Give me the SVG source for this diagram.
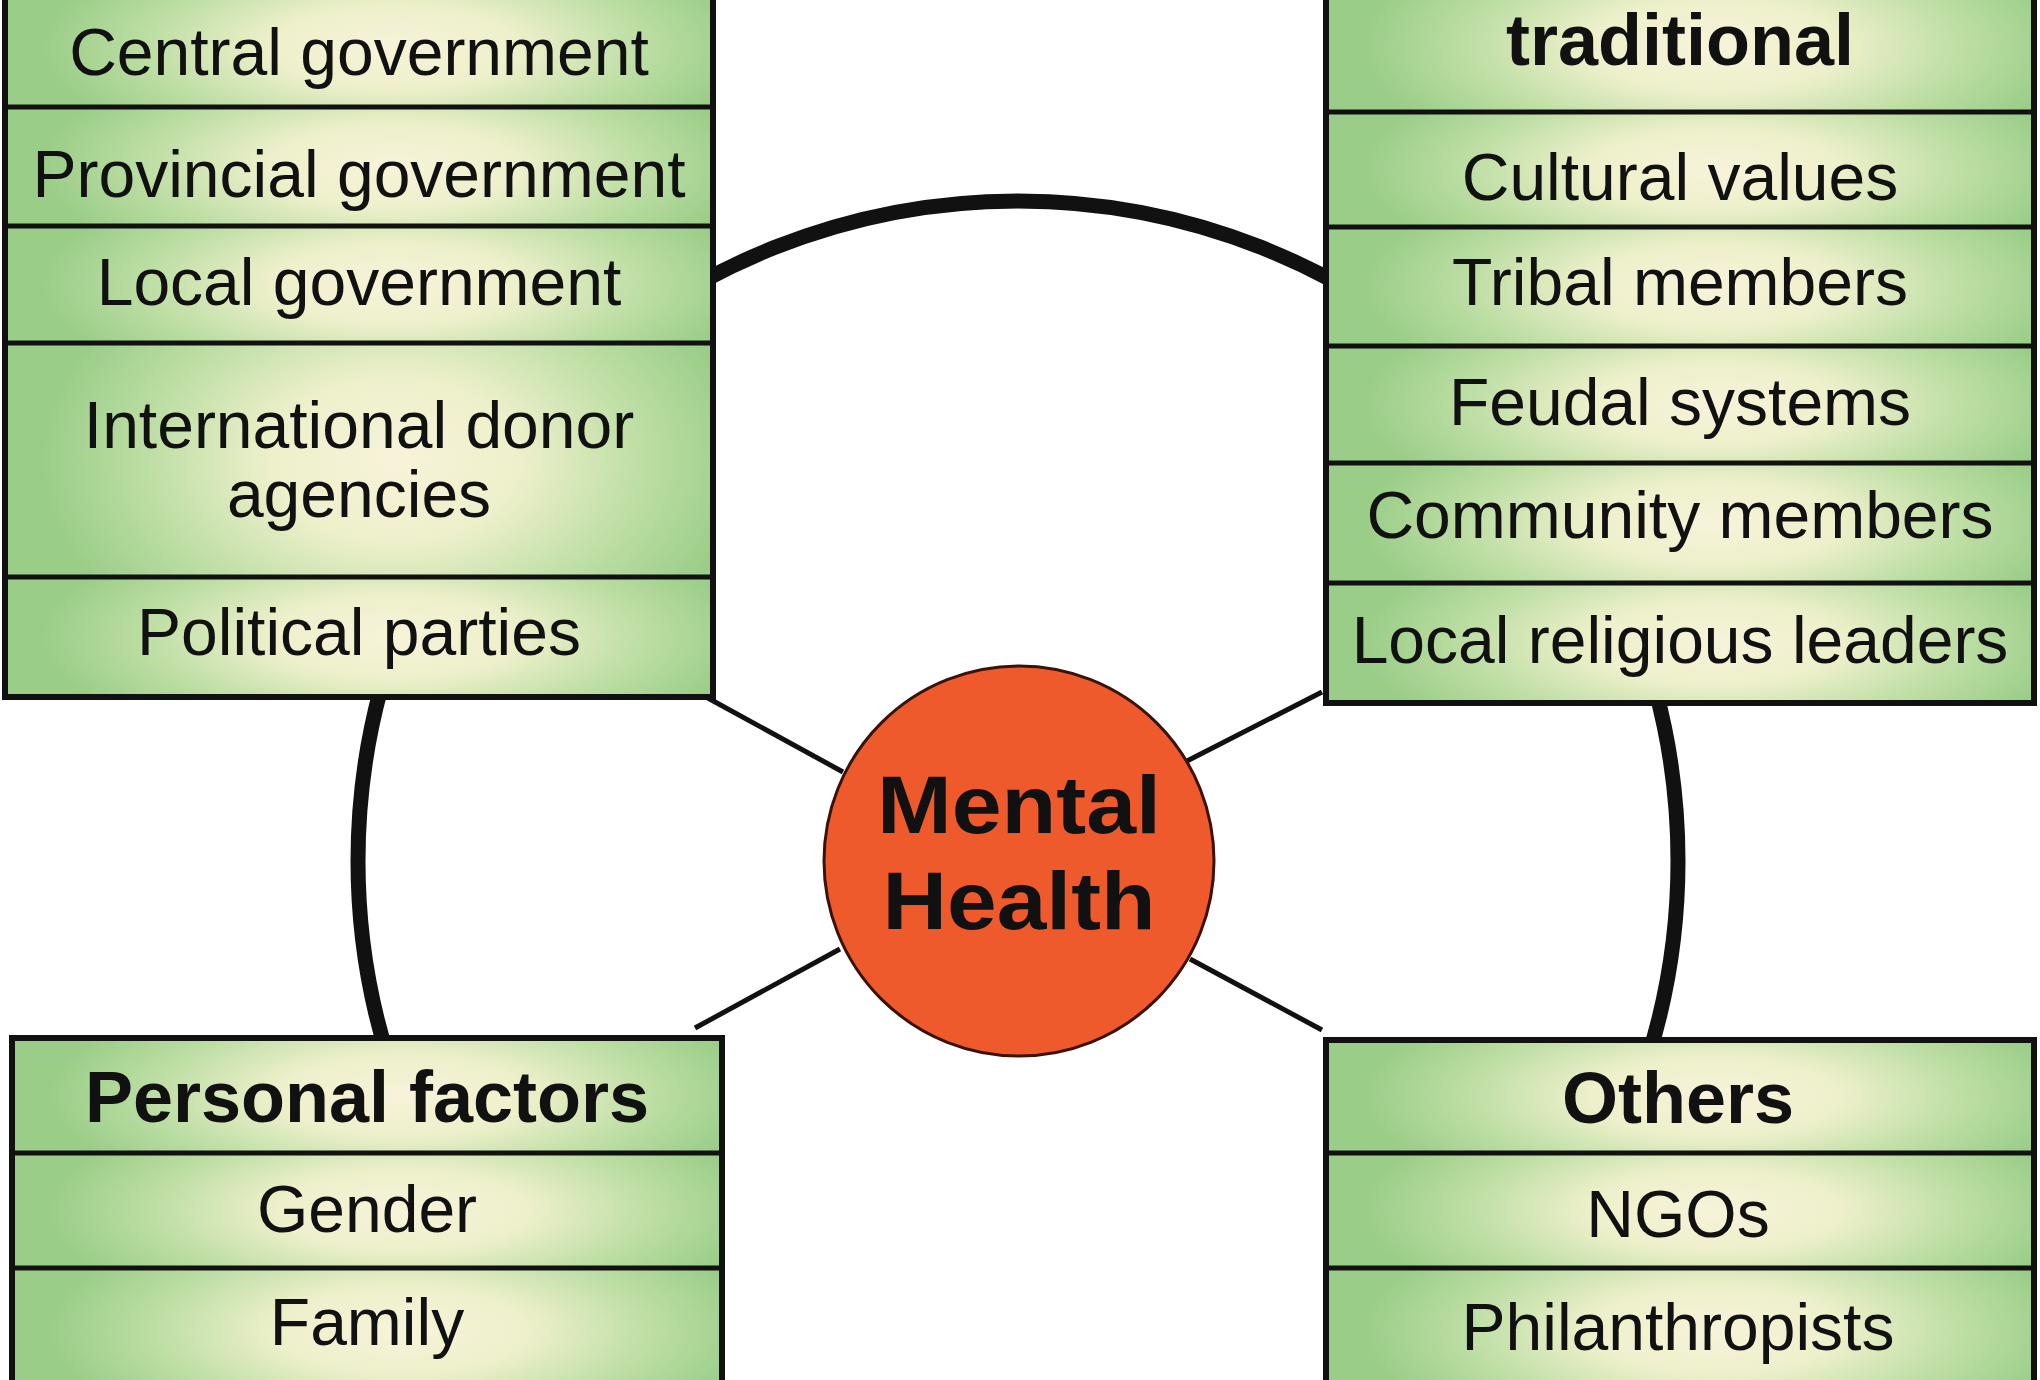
<svg xmlns="http://www.w3.org/2000/svg" width="2040" height="1380" viewBox="0 0 2040 1380">
<defs>
<radialGradient id="cell" cx="0.55" cy="0.5" r="0.5" gradientTransform="translate(0.55 0.5) scale(1 2) translate(-0.55 -0.5)">
<stop offset="0" stop-color="#f7f3da"/>
<stop offset="0.35" stop-color="#eef0cb"/>
<stop offset="0.7" stop-color="#bddea4"/>
<stop offset="1" stop-color="#9acd88"/>
</radialGradient>
</defs>
<style>
.cell{fill:url(#cell);}
.frame{fill:none;stroke:#111;stroke-width:6;}
.div{stroke:#111;stroke-width:5;}
.t{font-family:"Liberation Sans",Arial,Helvetica,sans-serif;font-size:66px;fill:#111;text-anchor:middle;}
.h{font-family:"Liberation Sans",Arial,Helvetica,sans-serif;font-size:72px;font-weight:bold;fill:#111;text-anchor:middle;}
.c{font-family:"Liberation Sans",Arial,Helvetica,sans-serif;font-size:82px;font-weight:bold;fill:#111;text-anchor:middle;}
.ring{fill:none;stroke:#111;stroke-width:15;}
.spoke{stroke:#111;stroke-width:5;}
</style>
<rect width="2040" height="1380" fill="#ffffff"/>
<g id="connectors">
<circle class="ring" cx="1018" cy="861" r="660"/>
<line class="spoke" x1="706" y1="697" x2="843" y2="772"/>
<line class="spoke" x1="1187" y1="761" x2="1322" y2="692"/>
<line class="spoke" x1="840" y1="949" x2="695" y2="1028"/>
<line class="spoke" x1="1190" y1="959" x2="1322" y2="1030"/>
</g>
<g id="node-government">
<rect class="cell" x="5" y="-12" width="708" height="119"/>
<rect class="cell" x="5" y="107" width="708" height="119"/>
<rect class="cell" x="5" y="226" width="708" height="117"/>
<rect class="cell" x="5" y="343" width="708" height="234"/>
<rect class="cell" x="5" y="577" width="708" height="120"/>
<line class="div" x1="5" y1="107" x2="713" y2="107"/>
<line class="div" x1="5" y1="226" x2="713" y2="226"/>
<line class="div" x1="5" y1="343" x2="713" y2="343"/>
<line class="div" x1="5" y1="577" x2="713" y2="577"/>
<rect class="frame" x="5" y="-12" width="708" height="709"/>
<text class="t" x="359" y="75">Central government</text>
<text class="t" x="359" y="197">Provincial government</text>
<text class="t" x="359" y="305">Local government</text>
<text class="t" x="359" y="448">International donor</text>
<text class="t" x="359" y="517">agencies</text>
<text class="t" x="359" y="655">Political parties</text>
</g>
<g id="node-traditional">
<rect class="cell" x="1326" y="-20" width="708" height="132"/>
<rect class="cell" x="1326" y="112" width="708" height="115"/>
<rect class="cell" x="1326" y="227" width="708" height="119"/>
<rect class="cell" x="1326" y="346" width="708" height="117"/>
<rect class="cell" x="1326" y="463" width="708" height="120"/>
<rect class="cell" x="1326" y="583" width="708" height="120"/>
<line class="div" x1="1326" y1="112" x2="2034" y2="112"/>
<line class="div" x1="1326" y1="227" x2="2034" y2="227"/>
<line class="div" x1="1326" y1="346" x2="2034" y2="346"/>
<line class="div" x1="1326" y1="463" x2="2034" y2="463"/>
<line class="div" x1="1326" y1="583" x2="2034" y2="583"/>
<rect class="frame" x="1326" y="-20" width="708" height="723"/>
<text class="h" x="1680" y="65">traditional</text>
<text class="t" x="1680" y="200">Cultural values</text>
<text class="t" x="1680" y="305">Tribal members</text>
<text class="t" x="1680" y="425">Feudal systems</text>
<text class="t" x="1680" y="538">Community members</text>
<text class="t" x="1680" y="663">Local religious leaders</text>
</g>
<g id="node-personal">
<rect class="cell" x="12" y="1038" width="710" height="115"/>
<rect class="cell" x="12" y="1153" width="710" height="115"/>
<rect class="cell" x="12" y="1268" width="710" height="125"/>
<line class="div" x1="12" y1="1153" x2="722" y2="1153"/>
<line class="div" x1="12" y1="1268" x2="722" y2="1268"/>
<rect class="frame" x="12" y="1038" width="710" height="360"/>
<text class="h" x="367" y="1122">Personal factors</text>
<text class="t" x="367" y="1232">Gender</text>
<text class="t" x="367" y="1345">Family</text>
</g>
<g id="node-others">
<rect class="cell" x="1326" y="1040" width="708" height="113"/>
<rect class="cell" x="1326" y="1153" width="708" height="115"/>
<rect class="cell" x="1326" y="1268" width="708" height="125"/>
<line class="div" x1="1326" y1="1153" x2="2034" y2="1153"/>
<line class="div" x1="1326" y1="1268" x2="2034" y2="1268"/>
<rect class="frame" x="1326" y="1040" width="708" height="358"/>
<text class="h" x="1678" y="1123">Others</text>
<text class="t" x="1678" y="1237">NGOs</text>
<text class="t" x="1678" y="1350">Philanthropists</text>
</g>
<g id="node-mental-health">
<circle cx="1019" cy="861" r="195" fill="#ef5a2c" stroke="#3a1208" stroke-width="3"/>
<text class="c" x="1019" y="833" textLength="284" lengthAdjust="spacingAndGlyphs">Mental</text>
<text class="c" x="1019" y="929" textLength="273" lengthAdjust="spacingAndGlyphs">Health</text>
</g>
</svg>
